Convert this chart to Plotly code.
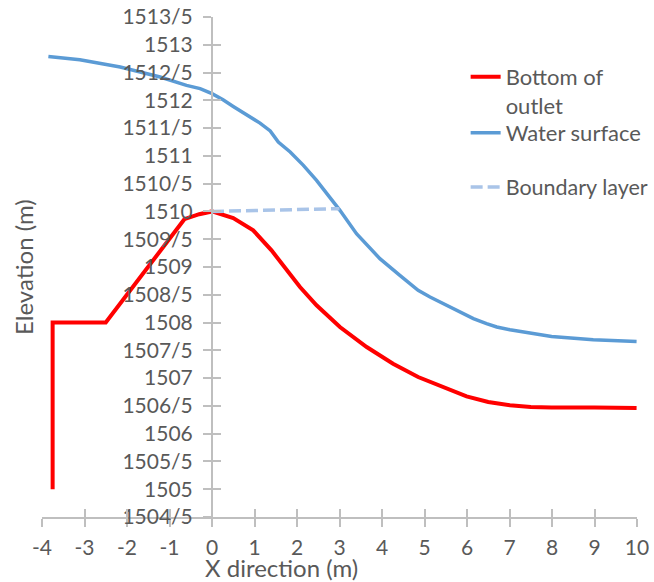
import plotly.graph_objects as go

# ---- data ----
bottom_x = [-3.75, -3.75, -2.5, -0.65, -0.3, 0, 0.5, 0.97, 1.4, 1.75, 2.07, 2.46, 3.01,
            3.64, 4.26, 4.85, 5.52, 5.99, 6.5, 7.01, 7.5, 7.99, 9.0, 9.99]
bottom_y = [1505.0, 1508.0, 1508.0, 1509.86, 1509.95, 1510.0, 1509.88, 1509.66, 1509.30,
            1508.97, 1508.64, 1508.31, 1507.92, 1507.56, 1507.26, 1507.02, 1506.81,
            1506.67, 1506.57, 1506.51, 1506.48, 1506.47, 1506.47, 1506.46]

water_x = [-3.85, -3.11, -2.16, -1.22, -0.6, -0.28, 0, 0.26, 0.5, 0.9, 1.13, 1.37, 1.56,
           1.84, 2.15, 2.46, 2.74, 3.01, 3.40, 3.95, 4.42, 4.85, 5.13, 5.6, 5.99, 6.15,
           6.46, 6.7, 7.01, 7.48, 7.99, 8.97, 9.99]
water_y = [1512.79, 1512.73, 1512.6, 1512.42, 1512.27, 1512.21, 1512.12, 1512.01, 1511.89,
           1511.70, 1511.59, 1511.45, 1511.25, 1511.07, 1510.83, 1510.56, 1510.29, 1510.02,
           1509.6, 1509.15, 1508.85, 1508.58, 1508.46, 1508.28, 1508.13, 1508.07, 1507.98,
           1507.92, 1507.87, 1507.81, 1507.75, 1507.69, 1507.66]

boundary_x = [0, 1.5, 3.0]
boundary_y = [1510.0, 1510.03, 1510.05]

x_ticks = [-4, -3, -2, -1, 0, 1, 2, 3, 4, 5, 6, 7, 8, 9, 10]
x_tick_text = ["-4", "-3", "-2", "-1", "0", "1", "2", "3", "4", "5", "6", "7", "8", "9", "10"]
y_tick_vals = [1504.5, 1505, 1505.5, 1506, 1506.5, 1507, 1507.5, 1508, 1508.5, 1509,
               1509.5, 1510, 1510.5, 1511, 1511.5, 1512, 1512.5, 1513, 1513.5]
y_tick_text = ["1504/5", "1505", "1505/5", "1506", "1506/5", "1507", "1507/5", "1508",
               "1508/5", "1509", "1509/5", "1510", "1510/5", "1511", "1511/5", "1512",
               "1512/5", "1513", "1513/5"]

x_range = [-4, 10]
y_range = [1504.5, 1513.5]

FONT = "Lato"
TXT = "#595959"
AX = "#BFBFBF"
TICK_SIZE = 21
LEG_SIZE = 22
TITLE_SIZE = 24

fig = go.Figure()
fig.add_trace(go.Scatter(x=bottom_x, y=bottom_y, mode="lines", name="Bottom of<br>outlet",
                         line=dict(color="#FF0000", width=4), legend="legend"))
fig.add_trace(go.Scatter(x=water_x, y=water_y, mode="lines", name="Water surface",
                         line=dict(color="#5B9BD5", width=3.5), legend="legend2"))
fig.add_trace(go.Scatter(x=boundary_x, y=boundary_y, mode="lines", name="Boundary layer",
                         line=dict(color="#A9C4E8", width=3.5, dash="12px,5px"), legend="legend3"))
# helper trace so the overlay axes (inner half of tick crosses) are drawn
fig.add_trace(go.Scatter(x=[None], y=[None], xaxis="x2", yaxis="y2", showlegend=False,
                         hoverinfo="skip"))

ypos = (0 - x_range[0]) / (x_range[1] - x_range[0])

fig.update_layout(
    width=654, height=582,
    margin=dict(l=42, r=17, t=17, b=65, autoexpand=False),
    paper_bgcolor="white", plot_bgcolor="white",
    font=dict(family=FONT, color=TXT, size=TICK_SIZE),
    xaxis=dict(range=x_range, tickvals=x_ticks, ticktext=x_tick_text, showgrid=False,
               zeroline=False, automargin=False,
               showline=True, linecolor=AX, linewidth=2, ticks="outside", ticklen=8,
               tickwidth=2, tickcolor=AX, tickfont=dict(size=TICK_SIZE, color=TXT),
               ticklabelstandoff=3),
    yaxis=dict(range=y_range, tickvals=y_tick_vals, ticktext=y_tick_text, showgrid=False,
               zeroline=False, showline=True, linecolor=AX, linewidth=2, automargin=False,
               anchor="free", position=ypos, ticks="outside", ticklen=8, tickwidth=2,
               tickcolor=AX, tickfont=dict(size=TICK_SIZE, color=TXT), ticklabelstandoff=6),
    xaxis2=dict(range=x_range, tickvals=x_ticks, overlaying="x", anchor="y", side="bottom",
                showgrid=False, zeroline=False, showline=False, ticks="inside", ticklen=8,
                tickwidth=2, tickcolor=AX, showticklabels=False, automargin=False),
    yaxis2=dict(range=y_range, tickvals=y_tick_vals, overlaying="y", anchor="free",
                position=ypos, showgrid=False, zeroline=False, showline=False, automargin=False,
                ticks="inside", ticklen=8, tickwidth=2, tickcolor=AX, showticklabels=False),
    legend=dict(x=0.712, y=0.922, xanchor="left", yanchor="top", valign="top",
                bgcolor="rgba(0,0,0,0)", font=dict(size=LEG_SIZE, color=TXT)),
    legend2=dict(x=0.712, y=0.768, xanchor="left", yanchor="middle",
                 bgcolor="rgba(0,0,0,0)", font=dict(size=LEG_SIZE, color=TXT)),
    legend3=dict(x=0.712, y=0.66, xanchor="left", yanchor="middle",
                 bgcolor="rgba(0,0,0,0)", font=dict(size=LEG_SIZE - 0.5, color=TXT)),
    annotations=[
        dict(text="Elevation (m)", xref="paper", yref="paper", x=-0.032, y=0.5,
             textangle=-90, showarrow=False, font=dict(size=TITLE_SIZE, color=TXT),
             xanchor="center", yanchor="middle"),
        dict(text="X direction (m)", xref="paper", yref="paper", x=0.402, y=-0.1,
             showarrow=False, font=dict(size=TITLE_SIZE, color=TXT),
             xanchor="center", yanchor="middle"),
    ],
)

fig.write_html("out.html", config={"displayModeBar": False},
               post_script="document.body.style.margin='0';document.body.style.padding='0';")
